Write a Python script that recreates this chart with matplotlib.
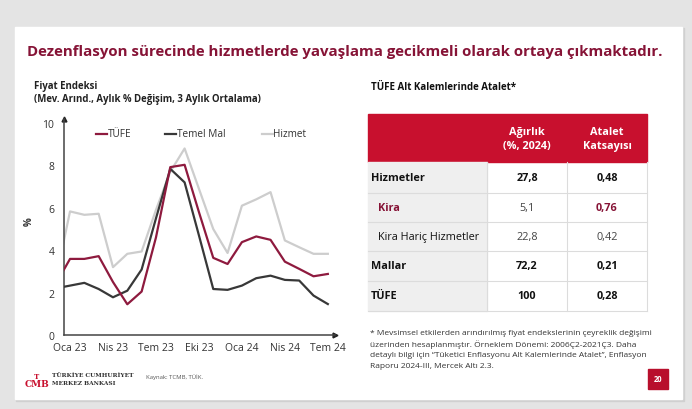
import numpy as np
import matplotlib
matplotlib.use("Agg")
import matplotlib.pyplot as plt
from matplotlib.patches import Rectangle

plt.rcParams['font.family'] = ['Open Sans', 'DejaVu Sans']

# monthly data, Ara 22 .. Tem 24 (first point is clipped by the axis)
months = np.arange(-1, 19)
tufe = [2.4, 3.59, 3.59, 3.72, 2.5, 1.45, 2.05, 4.6, 7.92, 8.03, 5.8, 3.64,
        3.35, 4.38, 4.65, 4.49, 3.46, 3.12, 2.77, 2.88]
temel_mal = [2.2, 2.33, 2.46, 2.17, 1.78, 2.09, 3.09, 5.5, 7.84, 7.2, 4.7, 2.17,
             2.13, 2.33, 2.68, 2.8, 2.6, 2.57, 1.86, 1.46]
hizmet = [2.6, 5.83, 5.67, 5.72, 3.2, 3.83, 3.94, 5.9, 7.7, 8.8, 6.9, 5.0,
          3.87, 6.1, 6.4, 6.74, 4.46, 4.14, 3.83, 3.83]
tick_pos = [0, 3, 6, 9, 12, 15, 18]
tick_labels = ["Oca 23", "Nis 23", "Tem 23", "Eki 23", "Oca 24", "Nis 24", "Tem 24"]

# table
row_names = ["Hizmetler", "Kira", "Kira Hariç Hizmetler", "Mallar", "TÜFE"]
weights = ["27,8", "5,1", "22,8", "72,2", "100"]
inertia = ["0,48", "0,76", "0,42", "0,21", "0,28"]

W, H = 692, 410
RED = "#c8102e"
DARKRED = "#861336"
C_TUFE, C_MAL, C_HIZ = "#8e1a3e", "#383838", "#cdcdcd"

fig = plt.figure(figsize=(W / 100, H / 100), dpi=100)

# background in pixel coordinates
bg = fig.add_axes([0, 0, 1, 1], zorder=0)
bg.set_xlim(0, W)
bg.set_ylim(H, 0)
bg.axis("off")
bg.add_patch(Rectangle((0, 0), W, H, color="#e4e4e4"))
bg.add_patch(Rectangle((16, 29), 668, 373, color="#d0d0d0"))
bg.add_patch(Rectangle((15, 28), 667, 372, color="white"))

bg.text(345, 52, "Dezenflasyon sürecinde hizmetlerde yavaşlama gecikmeli olarak ortaya çıkmaktadır.",
        ha="center", va="center", fontsize=10.8, fontweight="bold", color=DARKRED)

bg.text(34, 87, "Fiyat Endeksi", ha="left", va="center", fontsize=6.9, fontweight="bold", color="#222")
bg.text(34, 99.5, "(Mev. Arınd., Aylık % Değişim, 3 Aylık Ortalama)", ha="left", va="center",
        fontsize=6.9, fontweight="bold", color="#222")
bg.text(29, 222, "%", ha="center", va="center", rotation=90, fontsize=7, fontweight="bold", color="#333")

# legend drawn by hand (uneven gaps in the original)
for (lx, tx, name, c) in [(96, 108, "TÜFE", C_TUFE), (165, 177, "Temel Mal", C_MAL),
                          (262, 273, "Hizmet", C_HIZ)]:
    bg.plot([lx, lx + 11], [135, 135], color=c, lw=1.6)
    bg.text(tx, 135, name, ha="left", va="center", fontsize=7.2, color="#333")

# table
bg.text(371, 88, "TÜFE Alt Kalemlerinde Atalet*", ha="left", va="center", fontsize=7,
        fontweight="bold", color="#111")
x0, x1, x2, x3 = 368, 487, 567, 647
bg.add_patch(Rectangle((x0, 115), x3 - x0, 48, color=RED))
bg.text(527, 133, "Ağırlık", ha="center", va="center", fontsize=7.8, fontweight="bold", color="white")
bg.text(527, 146.5, "(%, 2024)", ha="center", va="center", fontsize=7.8, fontweight="bold", color="white")
bg.text(607, 133, "Atalet", ha="center", va="center", fontsize=7.8, fontweight="bold", color="white")
bg.text(607, 146.5, "Katsayısı", ha="center", va="center", fontsize=7.8, fontweight="bold", color="white")

row_edges = [163, 194, 223, 252, 281.5, 311.5]
bg.add_patch(Rectangle((x0, 163), x1 - x0, 148.5, color="#efefef"))
for y in row_edges[1:]:
    bg.plot([x0, x3], [y, y], color="#dcdcdc", lw=0.8)
for x in [x1, x2, x3]:
    bg.plot([x, x], [163, 311.5], color="#dcdcdc", lw=0.8)

for i, name in enumerate(row_names):
    yc = (row_edges[i] + row_edges[i + 1]) / 2
    bold_row = name in ("Hizmetler", "Mallar", "TÜFE")
    is_kira = name == "Kira"
    lx = 371 if bold_row else 378
    bg.text(lx, yc, name, ha="left", va="center", fontsize=7.8,
            fontweight="bold" if (bold_row or is_kira) else "normal",
            color=DARKRED if is_kira else "#111")
    bg.text(527, yc, weights[i], ha="center", va="center", fontsize=7.8,
            fontweight="bold" if bold_row else "normal", color="#111" if bold_row else "#444")
    bg.text(607, yc, inertia[i], ha="center", va="center", fontsize=7.8,
            fontweight="bold" if (bold_row or is_kira) else "normal",
            color=DARKRED if is_kira else ("#111" if bold_row else "#444"))

footnote = ["* Mevsimsel etkilerden arındırılmış fiyat endekslerinin çeyreklik değişimi",
            "üzerinden hesaplanmıştır. Örneklem Dönemi: 2006Ç2-2021Ç3. Daha",
            "detaylı bilgi için \u201cTüketici Enflasyonu Alt Kalemlerinde Atalet\u201d, Enflasyon",
            "Raporu 2024-III, Mercek Altı 2.3."]
for i, line in enumerate(footnote):
    bg.text(370, 334 + i * 10.7, line, ha="left", va="center", fontsize=6.0, color="#333")

bg.add_patch(Rectangle((648, 370), 20, 20, color="#b80f2c"))
bg.text(658, 380, "20", ha="center", va="center", fontsize=5.5, fontweight="bold", color="white")

# logo and source
bg.text(37, 377, "T", ha="center", va="center", fontsize=5, fontweight="bold", color=RED, family="serif")
bg.text(37, 385, "CMB", ha="center", va="center", fontsize=6.5, fontweight="bold", color=RED, family="serif")
bg.text(52, 376, "TÜRKİYE CUMHURİYET", ha="left", va="center", fontsize=4.2, color="#333",
        family="serif", fontweight="bold")
bg.text(52, 384, "MERKEZ BANKASI", ha="left", va="center", fontsize=4.2, color="#333",
        family="serif", fontweight="bold")
bg.text(146, 377, "Kaynak: TCMB, TÜİK.", ha="left", va="center", fontsize=4.3, color="#555")

# chart axes: x from 64 to 335 px, y from 119.8 to 336 px
ax = fig.add_axes([64 / W, 1 - 336 / H, (335 - 64) / W, (336 - 119.8) / H], zorder=1)
ax.patch.set_alpha(0)
ax.plot(months, hizmet, color=C_HIZ, lw=1.6, zorder=2)
ax.plot(months, temel_mal, color=C_MAL, lw=1.6, zorder=3)
ax.plot(months, tufe, color=C_TUFE, lw=1.6, zorder=4)
ax.set_xlim(-0.42, 18.5)
ax.set_ylim(0, 10.2)
ax.set_yticks([0, 2, 4, 6, 8, 10])
ax.set_xticks(tick_pos)
ax.set_xticklabels(tick_labels)
for s in ["top", "right"]:
    ax.spines[s].set_visible(False)
for s in ["left", "bottom"]:
    ax.spines[s].set_color("#444")
    ax.spines[s].set_linewidth(1.1)
ax.tick_params(axis="both", length=0, labelsize=7.5, colors="#333", pad=5)
ax.tick_params(axis="y", pad=7)
ax.plot(1, 0, ">", color="#222", ms=3.5, transform=ax.transAxes, clip_on=False)
ax.plot(0, 1, "^", color="#222", ms=3.5, transform=ax.transAxes, clip_on=False)

fig.savefig("out.png", dpi=100)
